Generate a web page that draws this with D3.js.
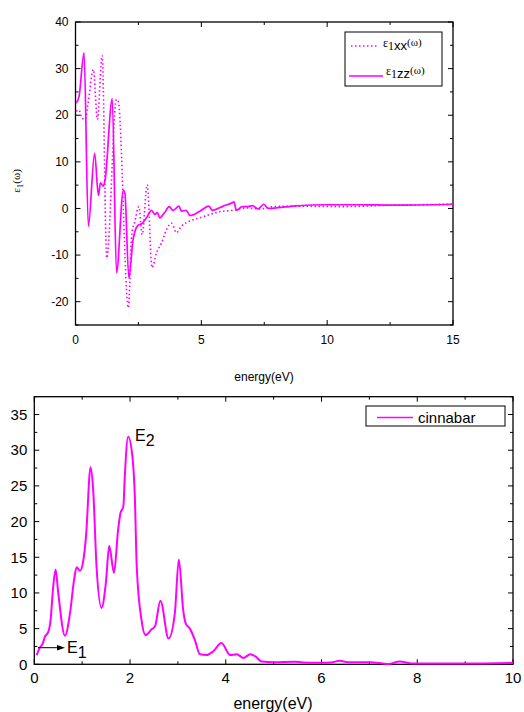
<!DOCTYPE html>
<html>
<head>
<script src="https://d3js.org/d3.v7.min.js"></script>
<style>
  body { margin: 0; background: #fff; }
  text { font-family: Arial, "Liberation Sans", sans-serif; fill: #000; }
  .sym { font-family: "Liberation Serif", "DejaVu Serif", serif; fill: #000; }
</style>
</head>
<body>
<script>
// top panel: real part eps1, energy in eV
var topE_zz = [0.02,0.14,0.34,0.51,0.76,0.91,0.99,1.10,1.17,1.46,1.63,1.90,1.96,2.12,2.29,2.49,2.65,2.82,3.02,3.16,3.25,3.35,3.55,3.72,3.88,4.11,4.21,4.39,4.55,4.94,5.30,5.44,5.87,6.22,6.29,6.40,6.63,6.85,7.03,7.26,7.48,7.65,8.64,9.97,11.3,12.6,15];
var topV_zz = [22.6,24,33.4,-3.8,11.8,2.8,5.5,4.8,5.9,23.5,-13.8,3.9,3.4,-14.9,-6.6,-3.6,-3.2,-2.0,-0.4,-1.3,-0.9,-2.0,-0.8,0.4,-0.4,0.5,-0.6,-0.4,-1.5,-0.6,0.5,-0.4,0.5,1.2,1.4,-0.4,0.4,0.4,0.6,-0.1,0.9,0,0.5,0.8,0.8,0.7,0.9];
var topE_xx = [0.02,0.14,0.25,0.38,0.51,0.71,0.87,1.06,1.24,1.63,1.70,2.10,2.23,2.36,2.52,2.65,2.85,3.04,3.22,3.42,3.62,3.82,4.01,4.21,4.54,4.94,5.34,5.73,6.26,6.79,7.32,7.85,8.64,10.6,12.6,15];
var topV_xx = [20.9,21.1,19.4,19.1,23,29.8,19.1,32.8,-10.6,23.4,23.0,-21.3,-5.9,-2.7,0.4,-5.6,5.1,-12.7,-9.5,-7.4,-4.5,-3.2,-5.2,-3.8,-2.7,-2.0,-1.3,-0.7,-0.4,0.1,-0.1,0.4,0.5,0.4,0.7,0.9];
var topXTicks = [0, 5, 10, 15];
var topYTicks = [-20, -10, 0, 10, 20, 30, 40];

// bottom panel: imaginary part eps2 of cinnabar
var botE = [0.05,0.105,0.175,0.225,0.29,0.34,0.395,0.445,0.50,0.64,0.745,0.83,0.885,0.955,1.025,1.08,1.175,1.23,1.30,1.405,1.495,1.565,1.665,1.75,1.80,1.86,1.89,1.96,2.05,2.10,2.14,2.24,2.325,2.45,2.52,2.635,2.805,2.935,3.02,3.11,3.165,3.25,3.355,3.46,3.60,3.735,3.91,4.09,4.23,4.37,4.51,4.62,4.75,5.0,5.44,5.6,5.9,6.2,6.38,6.55,7.0,7.4,7.63,7.9,9.0,10];
var botV = [1.3,2.2,2.9,3.9,4.5,6.2,10.9,13.3,10,4.0,7.1,11.8,13.6,13.1,14.6,17.9,27.6,24.4,13.7,7.9,11.4,16.6,12.8,18.8,21.2,22.1,26.3,31.9,29.1,23.5,13.7,6.2,4.1,4.9,5.3,8.9,3.6,7.1,14.7,7.6,5.7,5.0,3.4,1.4,1.3,1.8,3.0,1.3,1.4,0.9,1.4,1.1,0.4,0.3,0.37,0.25,0.2,0.25,0.5,0.3,0.3,0.05,0.4,0.1,0.1,0.2];
var botXTicks = [0, 2, 4, 6, 8, 10];
var botYTicks = [0, 5, 10, 15, 20, 25, 30, 35];

var pink = "#ff00ff";
var svg = d3.select("body").append("svg").attr("width", 524).attr("height", 712);

function frame(x, y, xt, yt, xMinor, yMinor, fs, lbDy, lbDx) {
  var x0 = x.range()[0], x1 = x.range()[1], y0 = y.range()[0], y1 = y.range()[1];
  var g = svg.append("g");
  g.append("rect").attr("x", x0).attr("y", y1).attr("width", x1 - x0).attr("height", y0 - y1)
    .attr("fill", "none").attr("stroke", "#000").attr("stroke-width", 1.3);
  var xAll = d3.range(x.domain()[0], x.domain()[1] + 1e-9, xMinor);
  var yAll = d3.range(y.domain()[0], y.domain()[1] + 1e-9, yMinor);
  xAll.forEach(function (v) {
    var len = xt.indexOf(v) >= 0 ? 5 : 3;
    g.append("line").attr("x1", x(v)).attr("x2", x(v)).attr("y1", y0).attr("y2", y0 - len).attr("stroke", "#000");
    g.append("line").attr("x1", x(v)).attr("x2", x(v)).attr("y1", y1).attr("y2", y1 + len).attr("stroke", "#000");
  });
  yAll.forEach(function (v) {
    var len = yt.indexOf(v) >= 0 ? 5 : 3;
    g.append("line").attr("y1", y(v)).attr("y2", y(v)).attr("x1", x0).attr("x2", x0 + len).attr("stroke", "#000");
    g.append("line").attr("y1", y(v)).attr("y2", y(v)).attr("x1", x1).attr("x2", x1 - len).attr("stroke", "#000");
  });
  xt.forEach(function (v) {
    g.append("text").attr("x", x(v)).attr("y", y0 + lbDy).attr("text-anchor", "middle")
      .attr("font-size", fs).text(v);
  });
  yt.forEach(function (v) {
    g.append("text").attr("x", x0 - lbDx).attr("y", y(v)).attr("dy", "0.35em").attr("text-anchor", "end")
      .attr("font-size", fs).text(v);
  });
}

// ---- top panel
var xT = d3.scaleLinear().domain([0, 15]).range([75.5, 453]);
var yT = d3.scaleLinear().domain([-25, 40]).range([325, 22]);
frame(xT, yT, topXTicks, topYTicks, 2.5, 5, 12, 19, 7);

var lineT = d3.line().curve(d3.curveMonotoneX);
svg.append("path").attr("fill", "none").attr("stroke", pink).attr("stroke-width", 1.6)
  .attr("stroke-dasharray", "1.5,2.5")
  .attr("d", lineT(topE_xx.map(function (e, i) { return [xT(e), yT(topV_xx[i])]; })));
svg.append("path").attr("fill", "none").attr("stroke", pink).attr("stroke-width", 1.7)
  .attr("d", lineT(topE_zz.map(function (e, i) { return [xT(e), yT(topV_zz[i])]; })));

svg.append("text").attr("x", 264).attr("y", 381).attr("text-anchor", "middle").attr("font-size", 12).text("energy(eV)");
var yl = svg.append("text").attr("class", "sym").attr("transform", "translate(20,181) rotate(-90)")
  .attr("text-anchor", "middle").attr("font-size", 11);
yl.append("tspan").text("ε");
yl.append("tspan").attr("dy", 3).attr("font-size", 9).text("1");
yl.append("tspan").attr("dy", -3).text("(ω)");

// top legend
svg.append("rect").attr("x", 345).attr("y", 32).attr("width", 97).attr("height", 54)
  .attr("fill", "#fff").attr("stroke", "#000").attr("stroke-width", 1);
svg.append("line").attr("x1", 351).attr("x2", 377).attr("y1", 46).attr("y2", 46)
  .attr("stroke", pink).attr("stroke-width", 1.6).attr("stroke-dasharray", "1.5,2.5");
svg.append("line").attr("x1", 349).attr("x2", 383).attr("y1", 76).attr("y2", 76)
  .attr("stroke", pink).attr("stroke-width", 1.7);
[["xx", 383, 50], ["zz", 386, 78]].forEach(function (d) {
  var t = svg.append("text").attr("x", d[1]).attr("y", d[2]).attr("font-size", 12);
  t.append("tspan").attr("class", "sym").attr("dy", -3).text("ε");
  t.append("tspan").attr("class", "sym").attr("dy", 3).text("1");
  t.append("tspan").attr("font-size", 13).text(d[0]);
  t.append("tspan").attr("class", "sym").attr("font-size", 11).attr("dy", -4).text("(ω)");
});

// ---- bottom panel
var xB = d3.scaleLinear().domain([0, 10]).range([34.3, 513]);
var yB = d3.scaleLinear().domain([0, 37.5]).range([664.3, 396.7]);
frame(xB, yB, botXTicks, botYTicks, 1, 2.5, 15, 19, 7);

svg.append("path").attr("fill", "none").attr("stroke", pink).attr("stroke-width", 2)
  .attr("d", d3.line().curve(d3.curveMonotoneX)(botE.map(function (e, i) { return [xB(e), yB(botV[i])]; })));

svg.append("text").attr("x", 273).attr("y", 709).attr("text-anchor", "middle").attr("font-size", 16).text("energy(eV)");

svg.append("rect").attr("x", 366).attr("y", 406).attr("width", 139).attr("height", 20)
  .attr("fill", "#fff").attr("stroke", "#000");
svg.append("line").attr("x1", 377).attr("x2", 413).attr("y1", 417.5).attr("y2", 417.5)
  .attr("stroke", pink).attr("stroke-width", 1.7);
svg.append("text").attr("x", 418).attr("y", 422.5).attr("font-size", 15).text("cinnabar");

// peak labels
var e2 = svg.append("text").attr("x", 135).attr("y", 441).attr("font-size", 16);
e2.append("tspan").text("E");
e2.append("tspan").attr("dy", 5).text("2");
var e1 = svg.append("text").attr("x", 67).attr("y", 653).attr("font-size", 16);
e1.append("tspan").text("E");
e1.append("tspan").attr("dy", 5).text("1");
svg.append("line").attr("x1", 38).attr("x2", 58).attr("y1", 647.7).attr("y2", 647.7).attr("stroke", "#000");
svg.append("path").attr("d", "M57,645 L65,647.7 L57,650.4 Z").attr("fill", "#000");
</script>
</body>
</html>
